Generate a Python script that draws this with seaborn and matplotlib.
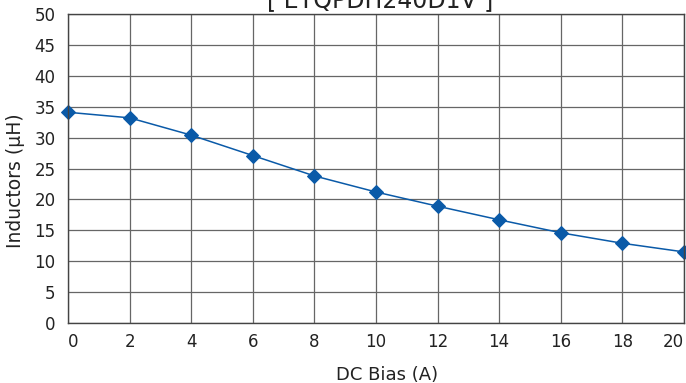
import seaborn as sns
import numpy as np
import pandas as pd
import matplotlib
matplotlib.use('Agg')
import matplotlib.pyplot as plt

# valores
dc_bias = [0, 2, 4, 6, 8, 10, 12, 14, 16, 18, 20]
inductancia = [34.1, 33.2, 30.4, 27.1, 23.8, 21.2, 18.9, 16.7, 14.6, 12.9, 11.5]
titulo = '[ ETQPDH240D1V ]'

df = pd.DataFrame({'DC Bias (A)': dc_bias, 'Inductors (µH)': inductancia})

sns.set_style('white')
plt.rcParams['font.family'] = ['DejaVu Sans']

fig = plt.figure(figsize=(6.86, 3.83), dpi=100)
ax = fig.add_axes([0.0991, 0.1567, 0.8979, 0.8067])

sns.lineplot(data=df, x='DC Bias (A)', y='Inductors (µH)', ax=ax,
             color='#0a5aa8', linewidth=1.1, marker='D', markersize=7.5,
             markeredgecolor='#0a5aa8')

ax.set_xlim(0, 20)
ax.set_ylim(0, 50)
ax.set_xticks(range(0, 21, 2))
ax.set_yticks(range(0, 51, 5))
ax.grid(True, color='#666666', linewidth=0.9)
ax.set_axisbelow(True)
for s in ax.spines.values():
    s.set_color('#444444')
    s.set_linewidth(1.0)
ax.tick_params(axis='both', length=0, labelsize=12, colors='#222222')
ax.tick_params(axis='x', pad=7)
ax.tick_params(axis='y', pad=9)
# primera y ultima etiqueta dentro del area
xt = ax.get_xticklabels()
xt[0].set_ha('left')
xt[-1].set_ha('right')
ax.set_xlabel('DC Bias (A)', fontsize=13, color='#222222')
ax.set_ylabel('Inductors (µH)', fontsize=13.5, color='#222222')
ax.xaxis.set_label_coords(0.518, -0.14)
ax.yaxis.set_label_coords(-0.07, 0.46)
for lbl in ax.get_lines():
    lbl.set_clip_on(False)

# titulo cortado arriba como en la imagen original
fig.text(0.554, 1.0, titulo, ha='center', va='center', fontsize=17, color='#222222')

plt.savefig('out.png', dpi=100)
